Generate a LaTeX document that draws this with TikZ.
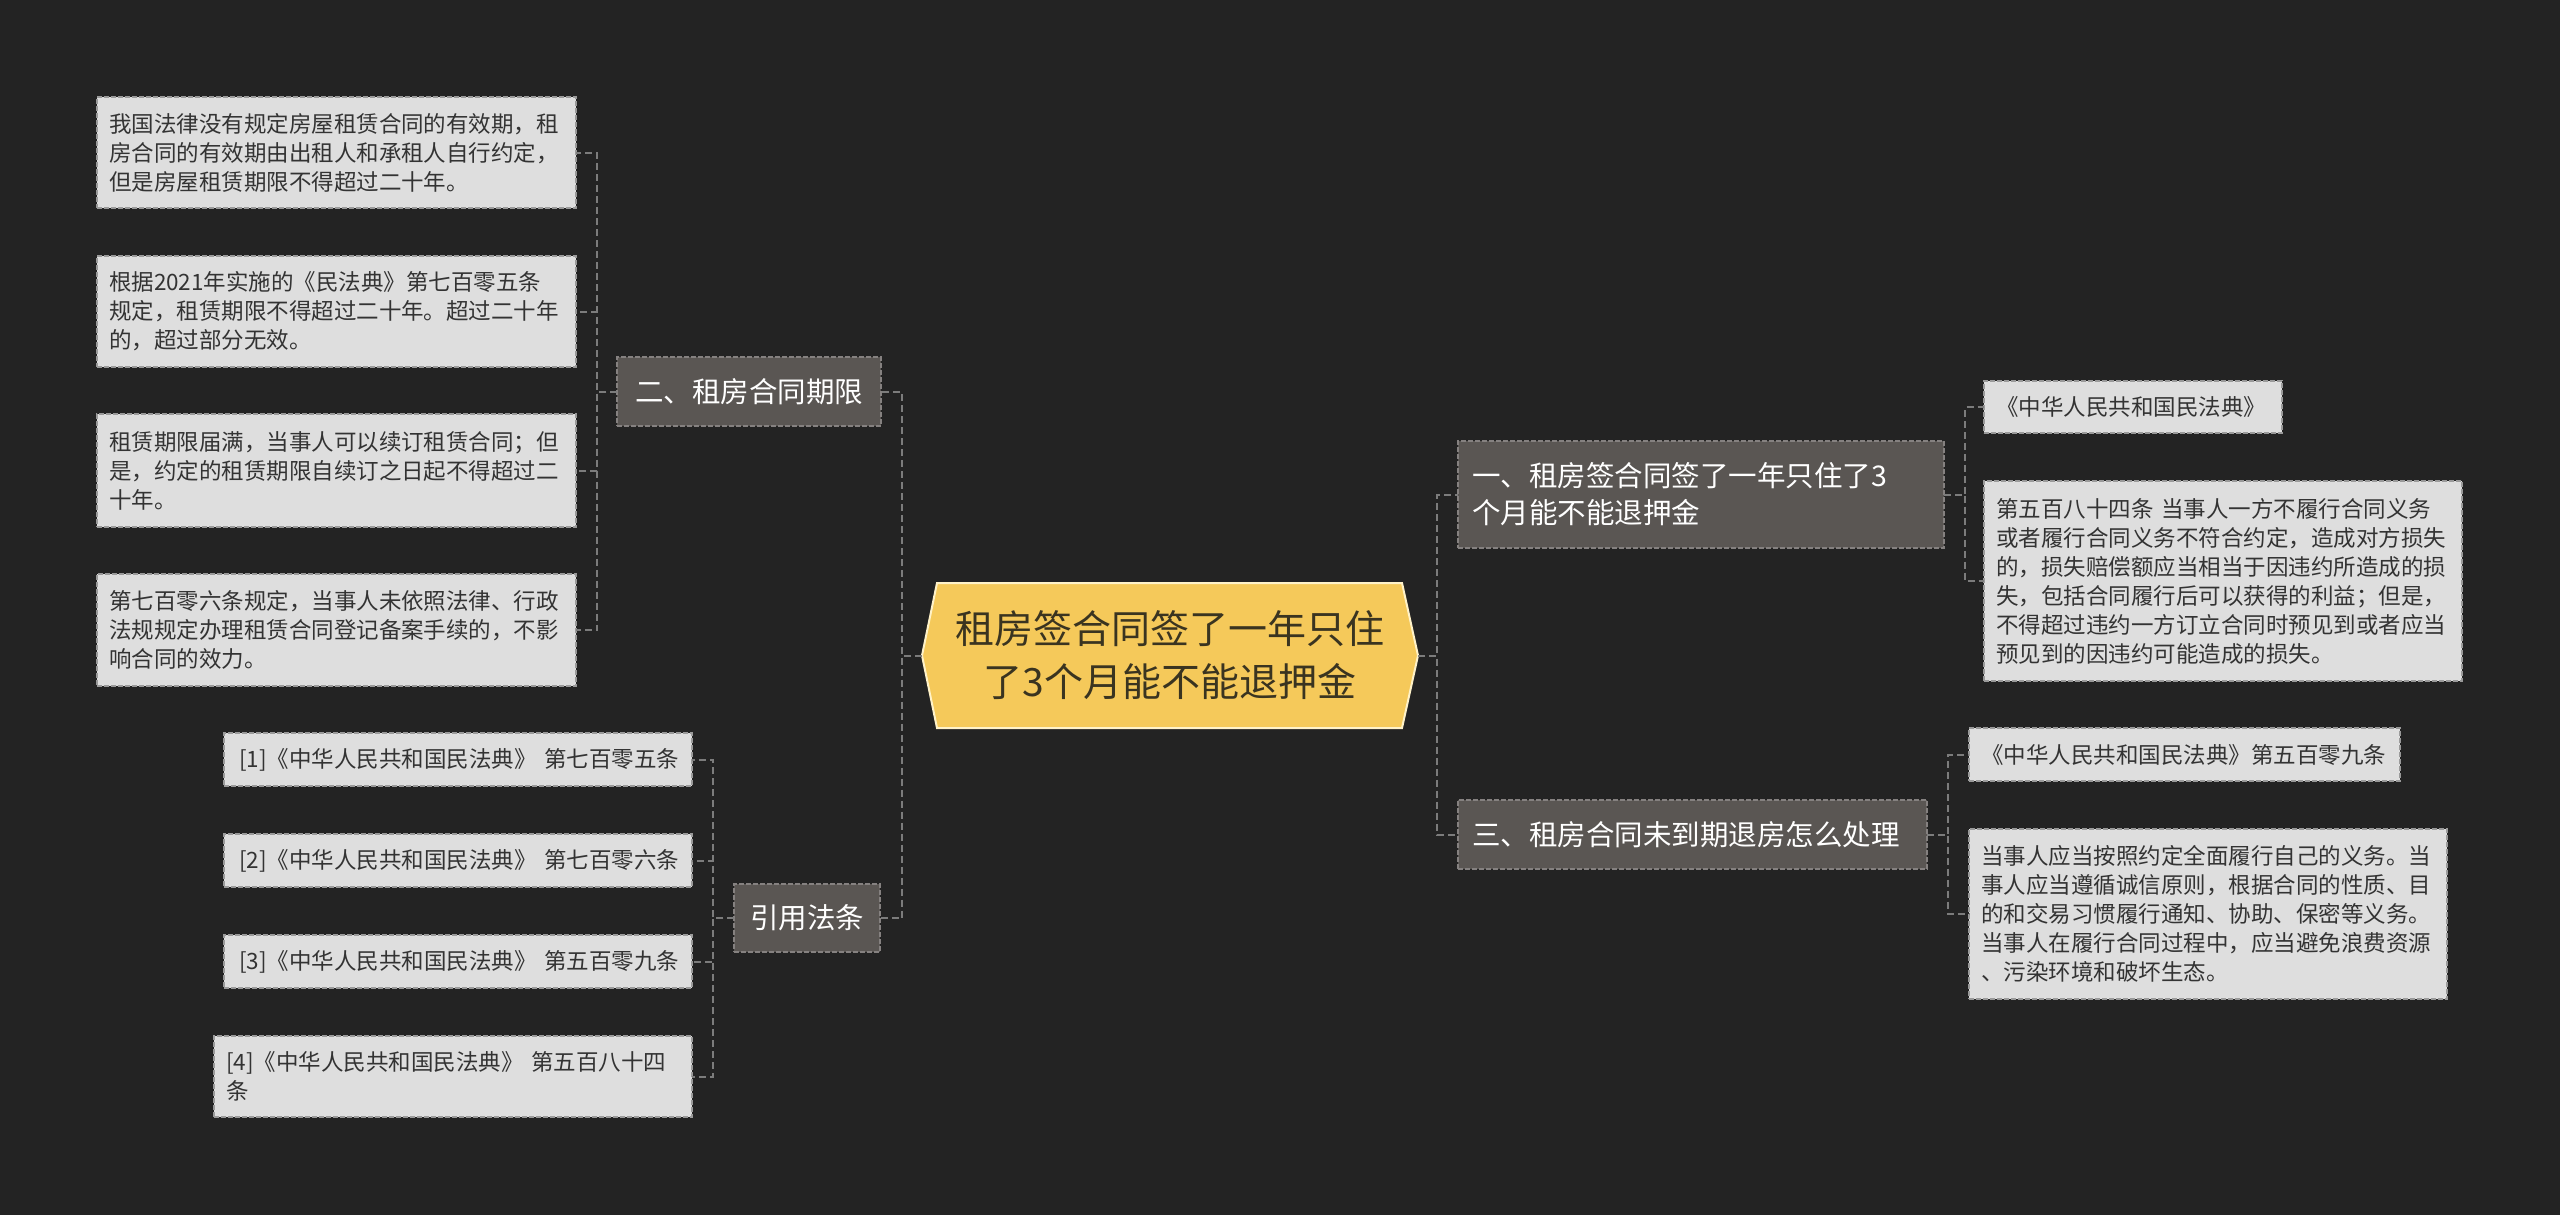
\documentclass[tikz,border=0pt]{standalone}
\usepackage{fontspec}
\setmainfont{Noto Sans CJK SC}
\definecolor{bgc}{HTML}{232323}
\definecolor{leaffill}{HTML}{DEDEDE}
\definecolor{leafline}{HTML}{9A9A9A}
\definecolor{leaftext}{HTML}{333333}
\definecolor{brfill}{HTML}{5A5653}
\definecolor{brline}{HTML}{858180}
\definecolor{conncol}{HTML}{7C7C7C}
\definecolor{rootfill}{HTML}{F5C95A}
\definecolor{rootline}{HTML}{FFF2C8}
\definecolor{roottext}{HTML}{3A3420}
\begin{document}
\begin{tikzpicture}[x=1pt,y=-1pt,
  leaf/.style={draw=leafline, fill=leaffill, line width=1.5pt, dash pattern=on 5pt off 2pt,
    text=leaftext, font=\fontsize{22.5}{29}\selectfont, align=left,
    inner xsep=12pt, inner ysep=0pt, anchor=north west, outer sep=0pt},
  branch/.style={draw=brline, fill=brfill, line width=1.5pt, dash pattern=on 5pt off 2pt,
    text=white, font=\fontsize{28.5}{37}\selectfont,
    inner xsep=14pt, inner ysep=0pt, anchor=north west, outer sep=0pt},
  conn/.style={draw=conncol, line width=2pt, dash pattern=on 7pt off 4pt},
  rootnode/.style={text=roottext, font=\fontsize{39}{53}\selectfont, align=center, inner sep=0pt}
]
\fill[bgc] (0,0) rectangle (2560,1215);
\useasboundingbox (0,0) rectangle (2560,1215);

% root
\coordinate (rootL) at (922,655.5);
\coordinate (rootR) at (1418,655.5);
\filldraw[fill=rootfill, draw=rootline, line width=2pt]
  (rootL) -- (937,583) -- (1402,583) -- (rootR) -- (1402,728) -- (937,728) -- cycle;
\node[rootnode] (root) at (1170,655.5) {租房签合同签了一年只住\\了3个月能不能退押金};

% left branch: 二
\node[branch, minimum width=264pt, minimum height=69pt, align=center] (b2) at (617,357) {二、租房合同期限};
\node[leaf, text width=455pt, minimum height=111pt] (L1) at (97,97)
  {我国法律没有规定房屋租赁合同的有效期，租\\房合同的有效期由出租人和承租人自行约定，\\但是房屋租赁期限不得超过二十年。};
\node[leaf, text width=455pt, minimum height=111pt] (L2) at (97,256)
  {根据2021年实施的《民法典》第七百零五条\\规定，租赁期限不得超过二十年。超过二十年\\的，超过部分无效。};
\node[leaf, text width=455pt, minimum height=113pt] (L3) at (97,414)
  {租赁期限届满，当事人可以续订租赁合同；但\\是，约定的租赁期限自续订之日起不得超过二\\十年。};
\node[leaf, text width=455pt, minimum height=112pt] (L4) at (97,574)
  {第七百零六条规定，当事人未依照法律、行政\\法规规定办理租赁合同登记备案手续的，不影\\响合同的效力。};

% left branch: 引用法条
\node[branch, minimum width=146pt, minimum height=68pt, align=center] (cite) at (734,884) {引用法条};
\node[leaf, inner xsep=15pt, text width=438pt, minimum height=53pt] (C1) at (224,733)
  {\mbox{[1]《中华人民共和国民法典》 第七百零五条}};
\node[leaf, inner xsep=15pt, text width=438pt, minimum height=53pt] (C2) at (224,834)
  {\mbox{[2]《中华人民共和国民法典》 第七百零六条}};
\node[leaf, inner xsep=15pt, text width=438pt, minimum height=53pt] (C3) at (224,935)
  {\mbox{[3]《中华人民共和国民法典》 第五百零九条}};
\node[leaf, inner xsep=12pt, text width=454pt, minimum height=81pt] (C4) at (214,1036)
  {\mbox{[4]《中华人民共和国民法典》 第五百八十四}\\条};

% right branch: 一
\node[branch, text width=458pt, minimum height=107pt, align=left] (R1) at (1458,441)
  {一、租房签合同签了一年只住了3\\个月能不能退押金};
\node[leaf, text width=274pt, minimum height=52pt] (R1a) at (1984,381)
  {《中华人民共和国民法典》};
\node[leaf, text width=454pt, minimum height=200pt] (R1b) at (1984,481)
  {第五百八十四条 当事人一方不履行合同义务\\或者履行合同义务不符合约定，造成对方损失\\的，损失赔偿额应当相当于因违约所造成的损\\失，包括合同履行后可以获得的利益；但是，\\不得超过违约一方订立合同时预见到或者应当\\预见到的因违约可能造成的损失。};

% right branch: 三
\node[branch, text width=441pt, minimum height=69pt, align=left] (R3) at (1458,800)
  {三、租房合同未到期退房怎么处理};
\node[leaf, text width=407pt, minimum height=53pt] (R3a) at (1969,728)
  {《中华人民共和国民法典》第五百零九条};
\node[leaf, text width=454pt, minimum height=170pt] (R3b) at (1969,829)
  {当事人应当按照约定全面履行自己的义务。当\\事人应当遵循诚信原则，根据合同的性质、目\\的和交易习惯履行通知、协助、保密等义务。\\当事人在履行合同过程中，应当避免浪费资源\\、污染环境和破坏生态。};

% connectors
\draw[conn] (rootL) -- ++(-20,0) |- (b2.east);
\draw[conn] (rootL) -- ++(-20,0) |- (cite.east);
\draw[conn] (rootR) -- ++(19,0) |- (R1.west);
\draw[conn] (rootR) -- ++(19,0) |- (R3.west);
\foreach \c in {L1,L2,L3,L4} \draw[conn] (b2.west) -- ++(-20,0) |- (\c.east);
\foreach \c in {C1,C2,C3,C4} \draw[conn] (cite.west) -- ++(-21,0) |- (\c.east);
\foreach \c in {R1a,R1b} \draw[conn] (R1.east) -- ++(21,0) |- (\c.west);
\foreach \c in {R3a,R3b} \draw[conn] (R3.east) -- ++(21,0) |- (\c.west);
\end{tikzpicture}
\end{document}
